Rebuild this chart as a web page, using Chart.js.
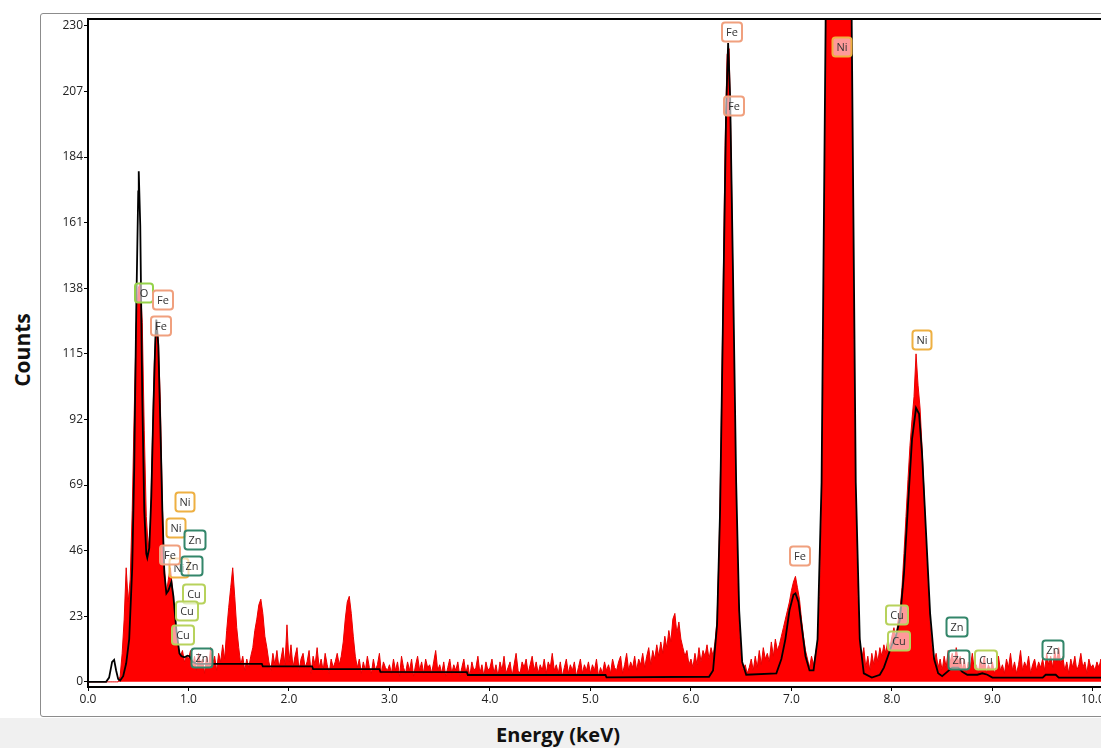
<!DOCTYPE html>
<html>
<head>
<meta charset="utf-8">
<script src="https://cdn.jsdelivr.net/npm/chart.js@4.4.0/dist/chart.umd.min.js"></script>
<style>
  html, body { margin: 0; padding: 0; background: #fff; overflow: hidden; width: 1101px; height: 748px; position: relative; font-family: "Open Sans", sans-serif; }
  #frame { position: absolute; left: 40px; top: 13px; width: 1100px; height: 702px; border: 1px solid #8c8c8c; border-radius: 3px; }
  #band { position: absolute; left: 0; top: 718px; width: 1101px; height: 30px; background: #f0f0f0; }
  #xtitle { position: absolute; left: 0; width: 1116px; top: 721px; text-align: center; font-weight: bold; font-size: 20px; color: #111; line-height: 27px; }
  #ytitle { position: absolute; left: 22px; top: 350px; transform: translate(-50%, -50%) rotate(-90deg); font-weight: bold; font-size: 21px; color: #111; white-space: nowrap; }
  #wrap { position: absolute; left: 0; top: 0; width: 1140px; height: 716px; }
</style>
</head>
<body>
<div id="frame"></div>
<div id="band"></div>
<div id="xtitle">Energy (keV)</div>
<div id="ytitle">Counts</div>
<div id="wrap"><canvas id="c" width="1140" height="716"></canvas></div>
<script>
// measured spectrum, one value per 0.02 keV channel starting at 0.00 keV
const channelWidth = 0.02;
const redCounts = [
  0,0,0,0,0, 0,0,0,0,0, 0,0,0,0,0, 0,2,10,22,40, 28,36,60,95,125,
  138,140,126,88,58, 47,54,84,112,126, 120,98,62,40,31, 36,40,33,24,16, 12,9,11,7,9,
  8,11,5,9,4, 10,6,8,3,9, 5,12,6,9,4, 10,7,13,8,18, 26,33,40,30,19,
  12,6,9,4,8, 5,9,12,18,22, 27,29,24,16,12, 7,4,10,6,11, 5,8,12,6,20,
  7,13,5,9,12, 4,8,10,5,7, 11,3,9,6,12, 5,8,4,10,6, 3,8,5,7,10,
  6,9,14,22,28, 30,24,16,9,5, 8,3,7,4,9, 5,3,8,4,6, 10,3,7,5,4,
  6,3,8,4,7, 2,9,5,3,7, 4,8,2,6,9, 4,7,3,8,5, 6,3,7,11,4,
  6,3,7,2,5, 8,3,6,4,7, 2,5,8,3,6, 2,7,4,5,9, 3,6,2,7,4,
  5,8,3,6,2, 7,4,9,3,5, 7,2,6,10,4, 3,7,5,8,3, 6,9,4,7,3,
  6,4,8,3,7, 5,10,4,6,3, 7,2,5,8,3, 6,4,7,2,5, 8,3,6,4,7,
  3,6,4,8,2, 5,3,7,4,6, 3,8,5,4,7, 9,3,6,10,4, 7,5,9,4,8,
  6,10,5,9,12, 6,11,8,13,9, 14,10,16,12,18, 14,22,24,17,21, 15,12,9,11,6,
  8,5,10,6,12, 7,11,9,13,8, 12,9,14,22,46, 86,137,188,220,222, 186,134,82,44,20,
  9,4,6,3,5, 8,4,9,5,11, 6,12,8,10,7, 14,9,15,11,13, 16,19,22,25,28,
  32,35,37,33,29, 22,16,11,8,5, 9,6,10,14,30, 62,120,210,340,500, 700,900,1100,1250,1250,
  1100,900,700,500,340, 210,120,62,30,14, 8,12,5,9,4, 10,6,11,7,12, 9,13,10,15,12,
  16,19,15,21,25, 33,45,58,71,83, 92,100,115,104,96, 82,66,48,33,20, 12,7,10,5,8,
  4,9,5,11,7, 10,6,12,7,9, 4,8,3,7,5, 10,4,6,3,8, 5,9,3,6,4,
  7,3,5,9,4, 6,3,8,5,10, 4,7,3,6,11, 4,7,5,9,3, 6,8,4,7,5,
  8,4,10,6,9, 5,11,7,12,6, 9,4,7,3,8, 5,9,4,6,10, 5,7,3,8,5,
  6,4,7,5,8, 3,6,5,7,4, 6
];

// fitted spectrum (black line)
const fitE = [0,0.18,0.21,0.24,0.26,0.28,0.30,0.32,0.35,0.38,
  0.41,0.44,0.46,0.48,0.50,0.505,0.52,0.54,0.56,0.58,
  0.59,0.61,0.63,0.65,0.67,0.68,0.70,0.72,0.74,0.76,
  0.78,0.80,0.83,0.85,0.88,0.91,0.93,0.96,0.99,1.01,
  1.04,1.08,1.73,1.74,2.23,2.24,2.90,2.91,3.77,3.78,
  5.15,5.16,6.18,6.22,6.26,6.29,6.32,6.35,6.37,6.39,
  6.42,6.45,6.48,6.51,6.55,6.85,6.90,6.94,6.98,7.02,
  7.04,7.07,7.10,7.14,7.18,7.22,7.26,7.30,7.34,7.36,
  7.40,7.47,7.54,7.58,7.60,7.64,7.68,7.72,7.80,7.88,
  7.92,7.96,8.00,8.04,8.08,8.12,8.16,8.20,8.24,8.27,
  8.30,8.34,8.38,8.42,8.46,8.50,8.55,8.60,8.66,8.70,
  8.75,8.85,8.90,8.95,9.00,9.50,9.53,9.63,9.66,10.2];
const fitC = [0,0,1.5,7,7.7,4,1,0.5,2,6.5,
  15,40,75,130,172,179,160,100,60,45,
  43.5,47,65,95,120,127,118,90,60,38,
  31,32,35,30,18,10,9,8.6,9.2,9,
  7,6.3,6.3,5.4,5.4,4.5,4.5,3.5,3.4,2.4,
  2.4,1.6,1.8,4,20,60,130,200,224,205,
  140,70,25,7,2.5,3,8,15,25,30.5,
  31,28,20,9,4,4,15,70,230,380,
  800,1450,800,380,230,70,15,3,1.5,2.5,
  5,9,13,16,22,38,62,85,96,94,
  80,52,24,8,3,2,3.5,5,5,3.5,
  2.5,2.5,3,2.5,1.5,1.5,2.5,2.5,1.5,1.5];

const xTicks = [0,1,2,3,4,5,6,7,8,9,10];
const yTicks = [0,23,46,69,92,115,138,161,184,207,230];

// element markers
const labelNames = ['O','Fe','Fe','Ni','Ni','Ni','Fe','Zn','Zn','Cu','Cu','Cu','Zn',
  'Fe','Fe','Ni','Fe','Ni','Cu','Cu','Zn','Zn','Cu','Zn'];
const labelE = [0.562,0.745,0.731,0.970,0.871,0.905,0.818,1.068,1.036,1.058,0.983,0.950,1.139,
  6.405,6.433,7.505,7.090,8.303,8.055,8.073,8.652,8.672,8.937,9.607];
const labelC = [136.4,133.9,124.8,62.9,54.0,40.0,44.5,49.7,40.7,30.9,24.9,16.4,8.5,
  227.7,201.9,222.6,44.2,119.9,23.5,14.2,19.4,7.7,7.7,11.0];

const labelColors = { O: '#95d24a', Fe: '#f0a07e', Ni: '#eeb042', Zn: '#33866a', Cu: '#b7d25c' };

const decor = {
  id: 'decor',
  afterDatasetsDraw(chart) {
    const { ctx, chartArea: a, scales: { x, y } } = chart;
    ctx.save();
    ctx.strokeStyle = '#000';
    ctx.lineWidth = 2;
    ctx.beginPath();
    ctx.moveTo(a.left - 1, a.top);
    ctx.lineTo(a.right + 40, a.top);
    ctx.stroke();

    ctx.font = '11px "Open Sans"';
    ctx.textAlign = 'center';
    ctx.textBaseline = 'middle';
    labelNames.forEach((n, i) => {
      const px = Math.round(x.getPixelForValue(labelE[i]));
      const py = Math.round(y.getPixelForValue(labelC[i]));
      const w = Math.max(18, Math.round(ctx.measureText(n).width) + 8), h = 19;
      ctx.beginPath();
      ctx.roundRect(px - w / 2, py - h / 2, w, h, 3);
      ctx.fillStyle = 'rgba(255,255,255,0.6)';
      ctx.fill();
      ctx.lineWidth = 2;
      ctx.strokeStyle = labelColors[n];
      ctx.stroke();
      ctx.fillStyle = '#333';
      ctx.fillText(n, px, py + 0.5);
    });
    ctx.restore();
  }
};

const tickFont = { family: 'Open Sans', size: 12 };

new Chart(document.getElementById('c'), {
  type: 'line',
  data: {
    datasets: [
      {
        label: 'Fit',
        data: fitE.map((e, i) => ({ x: e, y: fitC[i] })),
        borderColor: '#000',
        borderWidth: 1.8,
        pointRadius: 0,
        tension: 0,
        fill: false,
        order: 0
      },
      {
        label: 'Spectrum',
        data: redCounts.map((c, i) => ({ x: +(i * channelWidth).toFixed(2), y: c })),
        borderColor: '#e80000',
        borderWidth: 1,
        backgroundColor: '#ff0000',
        fill: 'origin',
        pointRadius: 0,
        tension: 0,
        order: 1
      }
    ]
  },
  options: {
    responsive: false,
    animation: false,
    layout: { padding: { left: 0, top: 19, right: 27, bottom: 0 } },
    plugins: { legend: { display: false }, tooltip: { enabled: false } },
    scales: {
      x: {
        type: 'linear',
        min: 0,
        max: 10.2,
        afterFit: s => { s.height = 29; },
        afterBuildTicks: s => { s.ticks = xTicks.map(v => ({ value: v })); },
        ticks: { callback: v => v.toFixed(1), font: tickFont, color: '#222', padding: 1, maxRotation: 0, autoSkip: false },
        grid: { drawOnChartArea: false, tickLength: 4, color: '#000' },
        border: { color: '#000', width: 2 }
      },
      y: {
        min: -1.8,
        max: 232.4,
        afterFit: s => { s.width = 88; },
        afterBuildTicks: s => { s.ticks = yTicks.map(v => ({ value: v })); },
        ticks: { font: tickFont, color: '#222', padding: 1, autoSkip: false },
        grid: { drawOnChartArea: false, tickLength: 4, color: '#000' },
        border: { color: '#000', width: 2 }
      }
    }
  },
  plugins: [decor]
});
</script>
</body>
</html>
